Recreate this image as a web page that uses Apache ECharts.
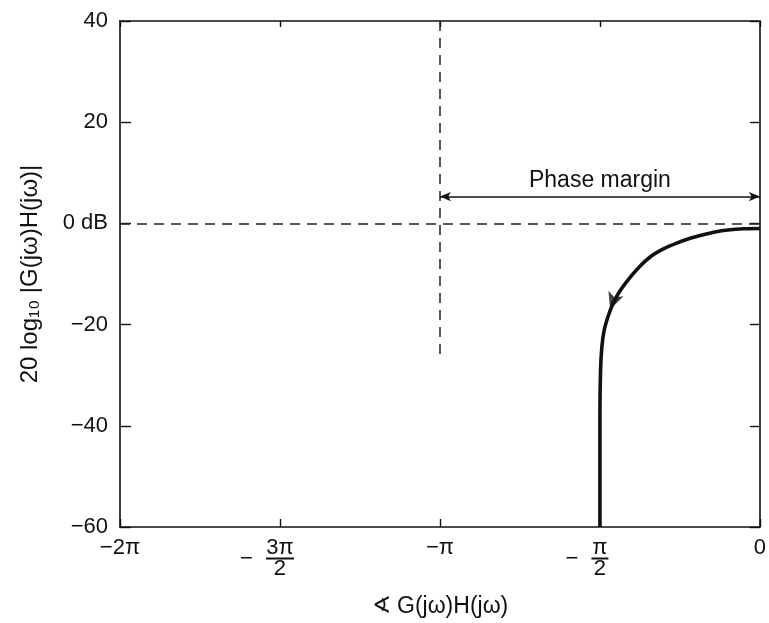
<!DOCTYPE html>
<html>
<head>
<meta charset="utf-8">
<title>Phase margin</title>
<script src="https://cdn.jsdelivr.net/npm/echarts@6/dist/echarts.min.js"></script>
<style>
    html, body { margin: 0; padding: 0; background: #fff; }
    #chart { width: 769px; height: 623px; }
</style>
</head>
<body>
<div id="chart"></div>
<script>
// phase in units of pi, magnitude in dB
var phaseValues = [0, -0.05, -0.1, -0.14, -0.18, -0.22, -0.26, -0.30, -0.34, -0.38, -0.41, -0.44, -0.46, -0.475, -0.487, -0.494, -0.498, -0.5, -0.5];
var magnitudeValues = [-1.0, -1.05, -1.3, -1.7, -2.3, -3.0, -3.9, -5.0, -6.5, -8.8, -11.0, -13.6, -16.0, -18.5, -21.2, -24.5, -29, -38, -60];

var xTickLabels = ['−2π', '−3π/2', '−π', '−π/2', '0'];
var yTickLabels = ['−60', '−40', '−20', '0 dB', '20', '40'];

// direction marker on the curve
var arrowPoint = [-0.468, -17];
// phase margin arrow (from -pi to 0) and the -pi reference line
var marginLevel = 5.3;
var crossoverPhase = -1;
var crossoverLineEnd = -27;

var FONT = "'Liberation Sans', Arial, sans-serif";

(function () {
    var myChart = echarts.init(document.getElementById('chart'));

    var curve = [];
    for (var i = 0; i < phaseValues.length; i++) {
        curve.push([phaseValues[i], magnitudeValues[i]]);
    }

    // x label: plain, or a stacked fraction like -3pi/2
    function xLabel(value) {
        var idx = Math.round((value + 2) / 0.5);
        var txt = xTickLabels[idx];
        if (txt.indexOf('/') < 0) {
            return '{t|' + txt + '}';
        }
        var parts = txt.slice(1).split('/');
        var bar = parts[0].length > 1 ? 'bw' : 'bn';
        return '{sp| }{n|' + parts[0] + '}{sp| }\n' +
            '{m|−}{' + bar + '| }{sp| }\n' +
            '{sp| }{n|' + parts[1] + '}{sp| }';
    }

    var axisLineStyle = { color: '#111', width: 1.6 };
    var tickStyle = { color: '#111', width: 1.4 };

    var option = {
        animation: false,
        textStyle: { fontFamily: FONT, color: '#111' },
        grid: { left: 120, right: 6, top: 21, bottom: 96 },
        xAxis: [{
            type: 'value',
            min: -2,
            max: 0,
            interval: 0.5,
            position: 'bottom',
            axisLine: { onZero: false, lineStyle: axisLineStyle },
            axisTick: { inside: true, length: 8, lineStyle: tickStyle },
            splitLine: { show: false },
            axisLabel: {
                margin: 12,
                color: '#111',
                fontFamily: FONT,
                formatter: xLabel,
                rich: {
                    t: { fontSize: 22, lineHeight: 18, fontFamily: FONT, color: '#111' },
                    n: { fontSize: 22, lineHeight: 18, fontFamily: FONT, color: '#111' },
                    m: { fontSize: 22, lineHeight: 3, width: 26, align: 'left', fontFamily: FONT, color: '#111' },
                    sp: { fontSize: 2, lineHeight: 3, width: 26 },
                    bw: { fontSize: 2, width: 28, height: 2, lineHeight: 3, backgroundColor: '#111' },
                    bn: { fontSize: 2, width: 17, height: 2, lineHeight: 3, backgroundColor: '#111' }
                }
            },
            name: '∢ G(jω)H(jω)',
            nameLocation: 'middle',
            nameGap: 68,
            nameTextStyle: { fontSize: 23, fontFamily: FONT, color: '#111' }
        }, {
            type: 'value',
            min: -2,
            max: 0,
            interval: 0.5,
            position: 'top',
            axisLine: { onZero: false, lineStyle: axisLineStyle },
            axisTick: { inside: true, length: 6, lineStyle: tickStyle },
            axisLabel: { show: false },
            splitLine: { show: false }
        }],
        yAxis: [{
            type: 'value',
            min: -60,
            max: 40,
            interval: 20,
            position: 'left',
            axisLine: { show: true, onZero: false, lineStyle: axisLineStyle },
            axisTick: { show: true, inside: true, length: 11, lineStyle: tickStyle },
            splitLine: { show: false },
            axisLabel: {
                margin: 12,
                fontSize: 22,
                color: '#111',
                fontFamily: FONT,
                formatter: function (value) {
                    return yTickLabels[Math.round((value + 60) / 20)];
                }
            },
            name: '20 log₁₀ |G(jω)H(jω)|',
            nameLocation: 'middle',
            nameGap: 78,
            nameTextStyle: { fontSize: 24, fontFamily: FONT, color: '#111' }
        }, {
            type: 'value',
            min: -60,
            max: 40,
            interval: 20,
            position: 'right',
            axisLine: { show: true, onZero: false, lineStyle: axisLineStyle },
            axisTick: { show: true, inside: true, length: 10, lineStyle: tickStyle },
            axisLabel: { show: false },
            splitLine: { show: false }
        }],
        series: [{
            name: 'curve',
            type: 'line',
            data: curve,
            smooth: 0.3,
            showSymbol: false,
            lineStyle: { color: '#111', width: 3.6 },
            z: 5,
            markLine: {
                silent: true,
                symbol: 'none',
                animation: false,
                label: { show: false },
                lineStyle: { color: '#222', width: 1.5, type: [10, 7] },
                data: [
                    [{ coord: [-2, 0] }, { coord: [0, 0] }],
                    [{ coord: [crossoverPhase, 40] }, { coord: [crossoverPhase, crossoverLineEnd] }],
                    [{
                        coord: [crossoverPhase, marginLevel],
                        symbol: 'arrow',
                        symbolSize: [7, 11],
                        lineStyle: { type: 'solid', width: 1.5, color: '#111' },
                        label: {
                            show: true,
                            position: 'middle',
                            formatter: 'Phase margin',
                            fontSize: 23,
                            fontFamily: FONT,
                            color: '#111',
                            distance: 4
                        }
                    }, {
                        coord: [0, marginLevel],
                        symbol: 'arrow',
                        symbolSize: [7, 11]
                    }]
                ]
            }
        }, {
            name: 'direction',
            type: 'scatter',
            data: [arrowPoint],
            symbol: 'arrow',
            symbolSize: [12, 17],
            symbolRotate: 160,
            itemStyle: { color: '#111' },
            z: 6
        }]
    };

    myChart.setOption(option);
    window.addEventListener('resize', function () {
        myChart.resize();
    });
})();
</script>
</body>
</html>
